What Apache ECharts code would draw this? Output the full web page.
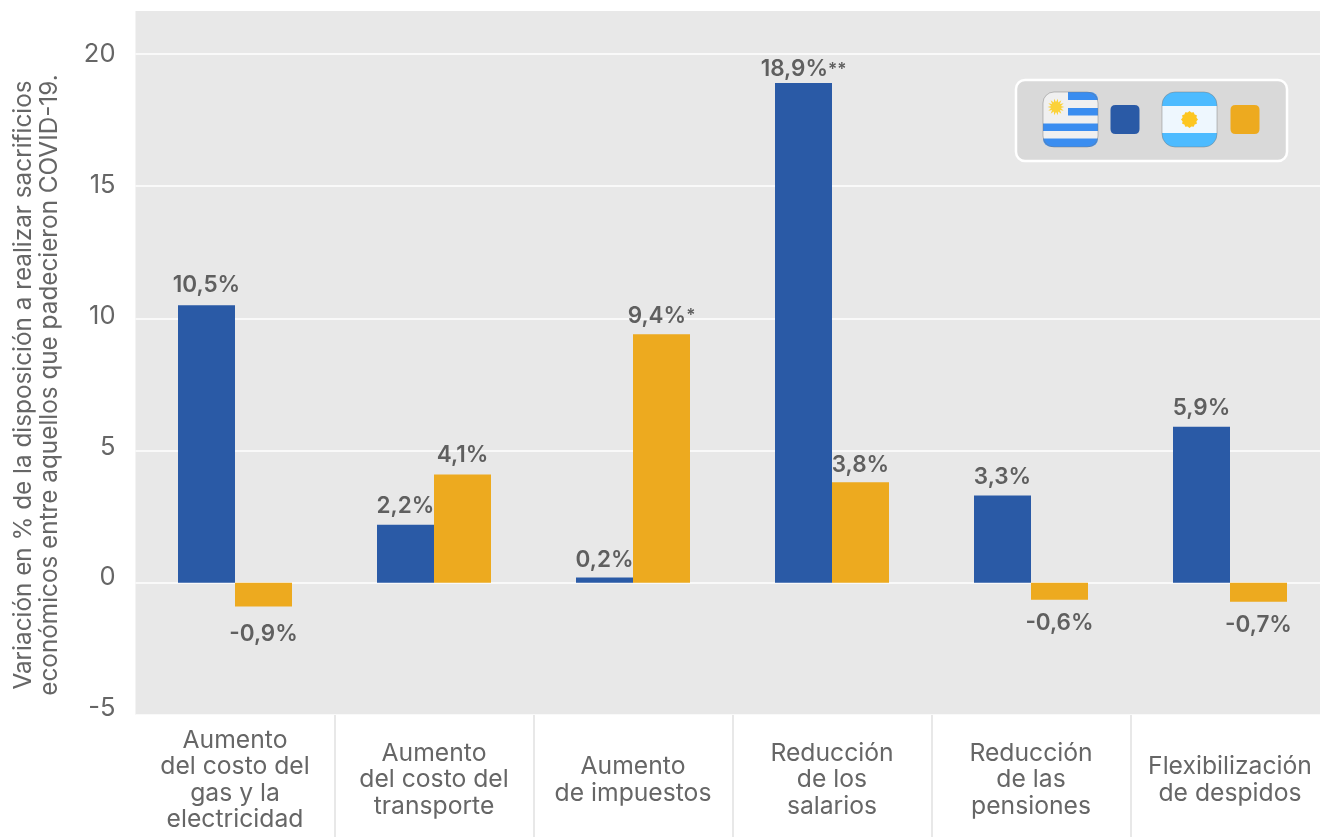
<!DOCTYPE html>
<html><head><meta charset="utf-8">
<style>html,body{margin:0;padding:0;background:#fff}#c{width:1320px;height:837px}</style>
<script src="https://cdn.jsdelivr.net/npm/echarts@6/dist/echarts.min.js"></script>
</head><body><div id="c"></div>
<script>
const categories = ["Aumento\ndel costo del\ngas y la\nelectricidad","Aumento\ndel costo del\ntransporte","Aumento\nde impuestos","Reducción\nde los\nsalarios","Reducción\nde las\npensiones","Flexibilización\nde despidos"];
const uruguay = [10.5,2.2,0.2,18.9,3.3,5.9];
const argentina = [-0.9,4.1,9.4,3.8,-0.64,-0.72];
const uruguayLabels = ["10,5%","2,2%","0,2%","18,9%","3,3%","5,9%"];
const uruguayMarks = ["","","","**","",""];
const argentinaLabels = ["-0,9%","4,1%","9,4%","3,8%","-0,6%","-0,7%"];
const argentinaMarks = ["","","*","","",""];
const uruguayLabelGap = [8,7,6,2,7,7];
const argentinaLabelGap = [16,8,7,6,12,12];
const yTitle = "Variación en % de la disposición a realizar sacrificios\neconómicos entre aquellos que padecieron COVID-19.";
const yTicks = [-5,0,5,10,15,20];
const FONT = "Inter";
const BLUE = "#2a5aa6", ORANGE = "#edaa1f", TXT = "#666666";

function sun(cx, cy, r1, r2, n, fill){
  const pts=[];
  for(let i=0;i<n*2;i++){const a=Math.PI*i/n,r=i%2?r1:r2;pts.push([cx+r*Math.cos(a),cy+r*Math.sin(a)]);}
  return {type:'polygon',shape:{points:pts},style:{fill}};
}
function barData(vals,labels,marks,gaps){
  return vals.map((v,i)=>({value:v,label:{
    show:true,
    formatter:'{a|'+labels[i]+'}'+(marks[i]?'{s|'+marks[i]+'}':''),
    distance:gaps[i],
    position:v<0?'bottom':'top',
    rich:{a:{fontFamily:FONT,fontSize:22.5,fontWeight:600,color:"#5f5f5f"},
          s:{fontFamily:FONT,fontSize:17,fontWeight:600,color:"#5f5f5f"}}}}));
}
const swatch='path://M5 0H24Q29 0 29 5V24Q29 29 24 29H5Q0 29 0 24V5Q0 0 5 0Z';
const chart = echarts.init(document.getElementById('c'),null,{renderer:'canvas'});
chart.setOption({
  animation:false,
  grid:{left:135.5,top:11,width:1194,height:704,show:true,backgroundColor:"#e8e8e8",borderWidth:0,outerBoundsMode:'none'},
  legend:{left:1110.5,top:105,itemWidth:29,itemHeight:29,itemGap:91,icon:swatch,selectedMode:false,
    padding:0,formatter:()=>'',textStyle:{fontSize:1,padding:0},
    data:['Uruguay','Argentina']},
  xAxis:{type:'category',data:categories,
    axisLine:{show:false,onZero:false},
    axisTick:{show:true,length:122,interval:(i)=>i>0,lineStyle:{color:"#e8e8e8",width:2}},
    axisLabel:{interval:0,margin:65,verticalAlign:'middle',hideOverlap:false,
      fontFamily:FONT,fontSize:24.7,lineHeight:26.4,color:TXT,align:'center'}},
  yAxis:[{type:'value',min:-5,max:21.626,interval:5,
      axisLine:{show:false},axisTick:{show:false},axisLabel:{show:false},
      splitLine:{show:true,showMaxLine:false,lineStyle:{color:"#ffffff",width:1.5}},
      name:yTitle,nameLocation:'middle',nameRotate:90,nameGap:73,
      nameTextStyle:{fontFamily:FONT,fontSize:24.3,lineHeight:26,color:TXT,padding:[0,44,0,0]}},
    {type:'value',position:'left',min:-5.248,max:21.664,
      axisLine:{show:false},axisTick:{show:false},splitLine:{show:false},
      axisLabel:{margin:20,customValues:yTicks,fontFamily:FONT,fontSize:25.5,color:TXT}}],
  series:[
    {name:'Uruguay',type:'bar',yAxisIndex:0,barWidth:57,barGap:'0%',itemStyle:{color:BLUE},data:barData(uruguay,uruguayLabels,uruguayMarks,uruguayLabelGap)},
    {name:'Argentina',type:'bar',yAxisIndex:0,barWidth:57,barGap:'0%',itemStyle:{color:ORANGE},data:barData(argentina,argentinaLabels,argentinaMarks,argentinaLabelGap)}
  ],
  graphic:{elements:[
    {type:'group',z:3,children:[
      {type:'rect',shape:{x:1016,y:80,width:271,height:81,r:9},style:{fill:"#d9d9d9",stroke:"#ffffff",lineWidth:2.5}},
      {type:'rect',shape:{x:1043,y:92,width:55,height:55,r:11},style:{fill:"#f0f0f0"}},
      {type:'rect',shape:{x:1068,y:92,width:30,height:8,r:[0,10,0,0]},style:{fill:"#3a8df0"}},
      {type:'rect',shape:{x:1068,y:108,width:30,height:7.5},style:{fill:"#3a8df0"}},
      {type:'rect',shape:{x:1043,y:123.5,width:55,height:7.5},style:{fill:"#3a8df0"}},
      {type:'rect',shape:{x:1043,y:138.5,width:55,height:8.5,r:[0,0,11,11]},style:{fill:"#3a8df0"}},
      {type:'rect',shape:{x:1043,y:92,width:55,height:55,r:11},style:{fill:'none',stroke:"rgba(120,120,120,0.45)",lineWidth:1}},
      sun(1056,107,5,8.5,14,"#fbd23a"),
      {type:'rect',shape:{x:1162,y:92,width:55,height:55,r:13},style:{fill:"#4dbbff"}},
      {type:'rect',shape:{x:1162,y:106,width:55,height:27},style:{fill:"#eef7fe"}},
      {type:'rect',shape:{x:1162,y:92,width:55,height:55,r:13},style:{fill:'none',stroke:"rgba(120,120,120,0.45)",lineWidth:1}},
      sun(1189.5,119.5,7.2,8.5,12,"#fdc621")
    ]}
  ]}
});
</script></body></html>
